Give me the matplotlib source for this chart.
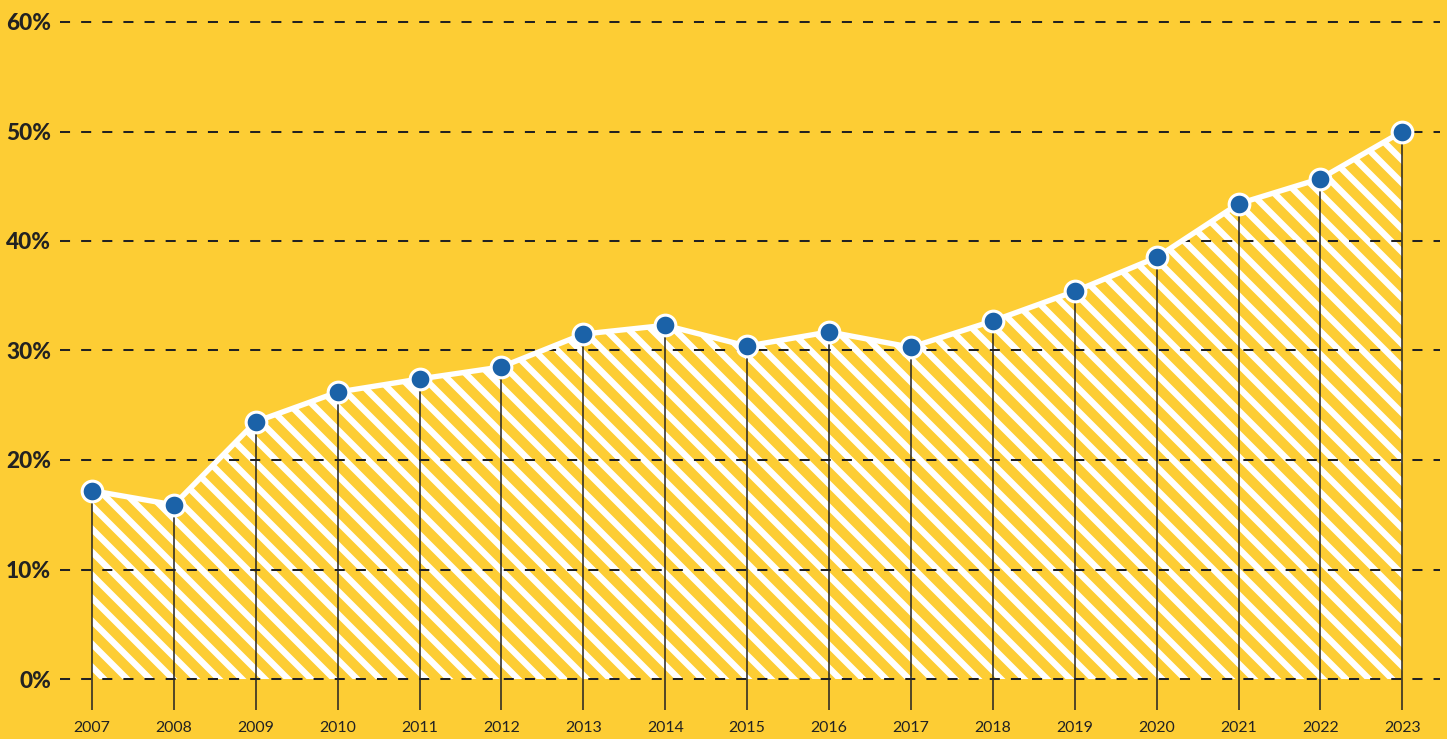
import matplotlib.pyplot as plt
import numpy as np

# data
years = [2007, 2008, 2009, 2010, 2011, 2012, 2013, 2014, 2015,
         2016, 2017, 2018, 2019, 2020, 2021, 2022, 2023]
share = [17.2, 15.9, 23.5, 26.2, 27.4, 28.5, 31.5, 32.3, 30.4,
         31.7, 30.3, 32.7, 35.4, 38.5, 43.4, 45.7, 50.0]
y_ticks = [0, 10, 20, 30, 40, 50, 60]
y_labels = ['0%', '10%', '20%', '30%', '40%', '50%', '60%']

bg = '#FDCD34'
blue = '#1B62A8'
ink = '#222222'

DPI = 138
plt.rcParams['hatch.linewidth'] = 3.3

fig = plt.figure(figsize=(1447 / DPI, 739 / DPI), dpi=DPI, facecolor=bg)
ax = fig.add_axes([60 / 1447, 27.15 / 739, 1380 / 1447, 711.75 / 739])
ax.set_facecolor(bg)

ybot = -3
ax.set_xlim(2006.61, 2023.46)
ax.set_ylim(ybot, 62)

# hatched area under the line
ax.fill_between(years, 0, share, facecolor=bg, edgecolor='white',
                hatch='\\\\', linewidth=0, zorder=1)

# dashed gridlines drawn over the fill
ax.set_axisbelow(False)
ax.yaxis.grid(True, color=ink, linewidth=1.05, dashes=(5, 5.5))
ax.xaxis.grid(False)

# thin drop lines from each point
ax.vlines(years, ybot + 0.2, share, color=ink, linewidth=0.8, zorder=3)

# white line and blue markers
ax.plot(years, share, color='white', linewidth=2.8, zorder=4,
        solid_joinstyle='round')
ax.plot(years, share, linestyle='none', marker='o', markersize=10.8,
        markerfacecolor=blue, markeredgecolor='white', markeredgewidth=1.6,
        zorder=5)

ax.set_yticks(y_ticks)
ax.set_yticklabels(y_labels, fontfamily='Lato', fontweight='black',
                   fontsize=11.8, color=ink)
ax.set_xticks(years)
ax.set_xticklabels([str(y) for y in years], fontfamily='Lato',
                   fontsize=8.3, color=ink)
ax.tick_params(axis='y', length=0, pad=4.7)
ax.tick_params(axis='x', length=0, pad=5.0)

for s in ax.spines.values():
    s.set_visible(False)

fig.savefig('out.png', dpi=DPI, facecolor=bg)
